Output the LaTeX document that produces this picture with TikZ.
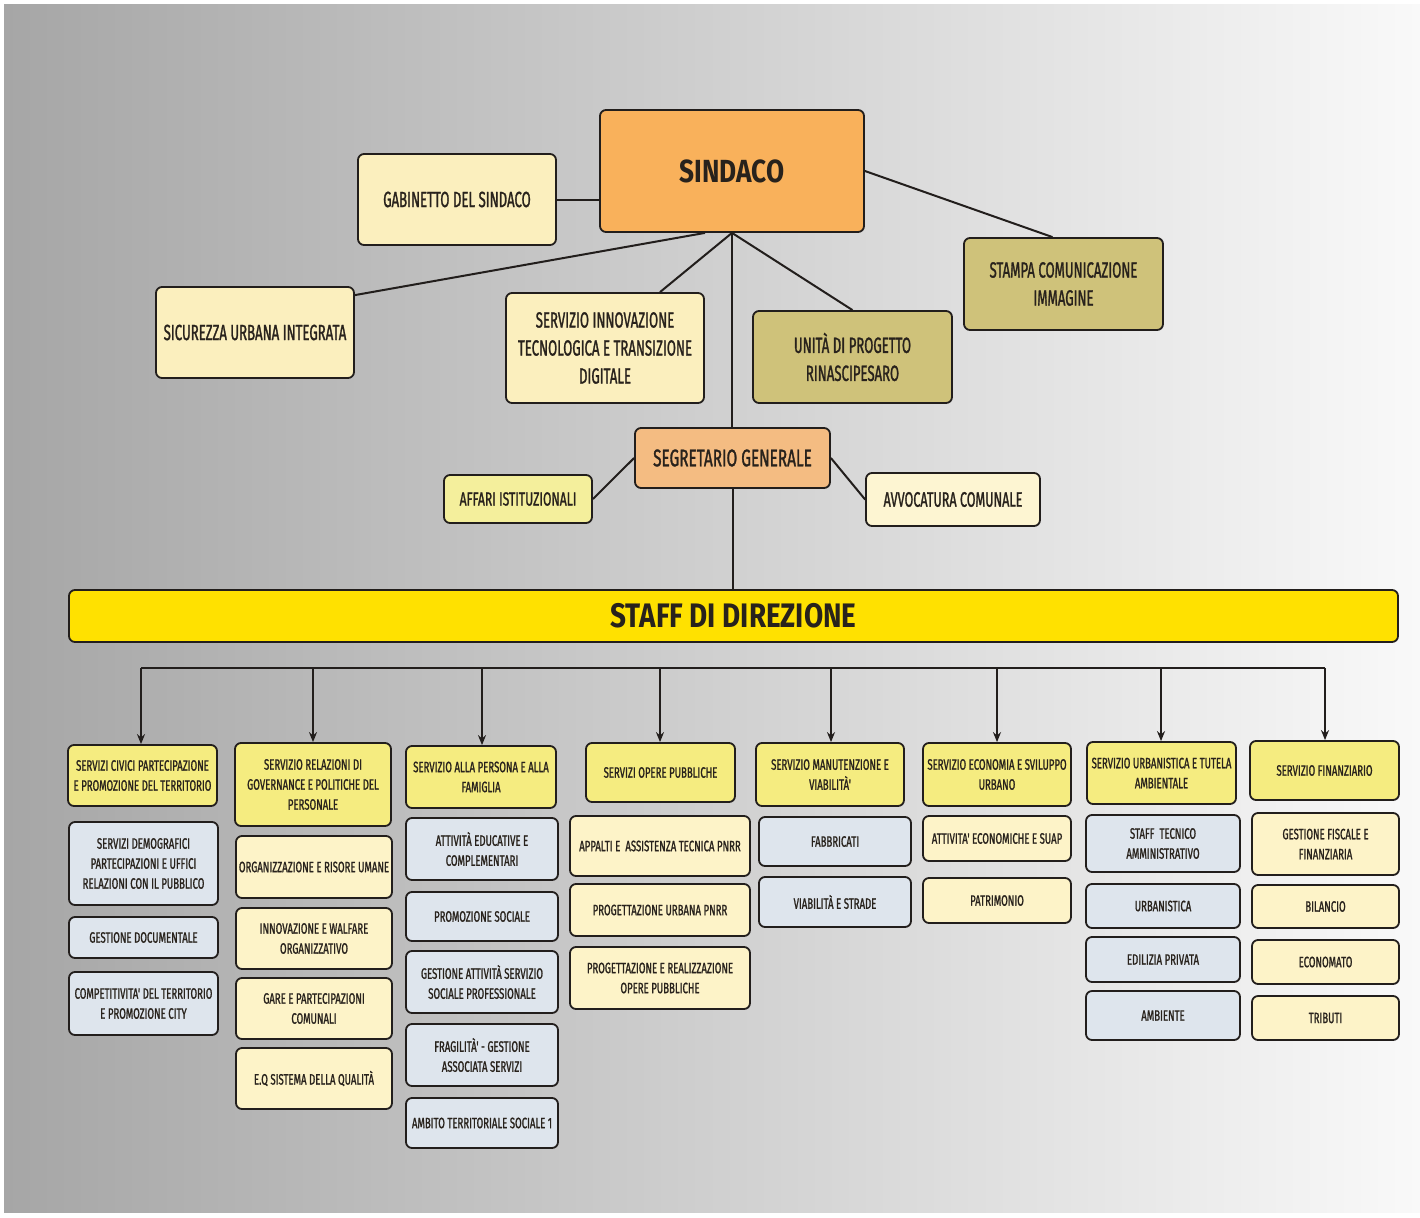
\documentclass[tikz,border=0pt]{standalone}
\usepackage{fontspec}
\setmainfont{Fira Sans}
\newfontfamily\cnd{Fira Sans}[FakeStretch=0.64,FakeBold=1.2]
\newfontfamily\cndt{Fira Sans}[FakeStretch=0.6,FakeBold=1.2]
\newfontfamily\wide{Fira Sans}[FakeStretch=0.82]
\usetikzlibrary{arrows.meta}
\definecolor{bgL}{RGB}{166,166,166}
\definecolor{bgR}{RGB}{249,249,249}
\definecolor{lineC}{RGB}{34,30,28}
\definecolor{txtC}{RGB}{40,34,28}
\definecolor{sinC}{RGB}{249,177,91}
\definecolor{topC}{RGB}{251,239,190}
\definecolor{olC}{RGB}{207,194,122}
\definecolor{segC}{RGB}{244,188,130}
\definecolor{affC}{RGB}{244,239,156}
\definecolor{avvC}{RGB}{253,245,210}
\definecolor{stC}{RGB}{255,225,0}
\definecolor{hdC}{RGB}{245,236,128}
\definecolor{blC}{RGB}{222,229,237}
\definecolor{crC}{RGB}{253,243,200}
\tikzset{
  box/.style={draw=lineC, line width=1.8pt, rounded corners=6pt, align=center, inner sep=0pt,
    text=txtC, font=\cnd\fontsize{15}{20}\selectfont},
  big/.style={box, font=\cndt\fontsize{22}{28}\selectfont},
  hd/.style={box, fill=hdC},
  bl/.style={box, fill=blC},
  cr/.style={box, fill=crC},
  link/.style={draw=lineC, line width=2pt},
  arr/.style={link, -{Stealth[length=10pt,width=8pt]}},
}
\newcommand\bx[7]{\node[#6, minimum width={(#4-#2)*1pt}, minimum height={(#5-#3)*1pt}] (#1) at ({(#2+#4)/2},{(#3+#5)/2}) {#7};}
\begin{document}
\begin{tikzpicture}[x=1pt,y=-1pt]
\useasboundingbox (0,0) rectangle (1420,1217);
\shade[left color=bgL, right color=bgR] (4,5) rectangle (1420,1212);

% top level
\bx{sin}{600}{110}{864}{232}{box, fill=sinC, font=\wide\bfseries\fontsize{32}{36}\selectfont}{SINDACO}
\bx{gab}{358}{154}{556}{245}{big, fill=topC}{GABINETTO DEL SINDACO}
\bx{sic}{156}{287}{354}{378}{big, fill=topC}{SICUREZZA URBANA INTEGRATA}
\bx{inn}{506}{293}{704}{403}{big, fill=topC}{SERVIZIO INNOVAZIONE\\TECNOLOGICA E TRANSIZIONE\\DIGITALE}
\bx{uni}{753}{311}{952}{403}{big, fill=olC}{UNITÀ DI PROGETTO\\RINASCIPESARO}
\bx{sta}{964}{238}{1163}{330}{big, fill=olC}{STAMPA COMUNICAZIONE\\IMMAGINE}
\bx{seg}{635}{428}{830}{488}{box, fill=segC, font=\cnd\fontsize{24}{28}\selectfont}{SEGRETARIO GENERALE}
\bx{aff}{444}{475}{592}{523}{box, fill=affC, font=\cnd\fontsize{19}{24}\selectfont}{AFFARI ISTITUZIONALI}
\bx{avv}{866}{473}{1040}{526}{box, fill=avvC, font=\cndt\fontsize{21}{24}\selectfont}{AVVOCATURA COMUNALE}
\bx{staff}{69}{590}{1398}{642}{box, fill=stC, font=\wide\bfseries\fontsize{34}{38}\selectfont}{STAFF DI DIREZIONE}

\draw[link] (gab.east) -- (gab.east -| sin.west);
\draw[link] ([yshift=-9pt]sic.north east) -- ([xshift=-27pt]sin.south);
\draw[link] ([xshift=55pt]inn.north) -- (sin.south);
\draw[link] (sin.south) -- (uni.north);
\draw[link] (sin.east) -- ([xshift=-11pt]sta.north);
\draw[link] (sin.south) -- (sin.south |- seg.north);
\draw[link] (seg.west) -- (aff.east);
\draw[link] (seg.east) -- (avv.west);
\draw[link] (seg.south) -- (seg.south |- staff.north);

% column 1
\bx{h1}{68}{745}{217}{806}{hd}{SERVIZI CIVICI PARTECIPAZIONE\\E PROMOZIONE DEL TERRITORIO}
\bx{c11}{69}{822}{218}{905}{bl}{SERVIZI DEMOGRAFICI\\PARTECIPAZIONI E UFFICI\\RELAZIONI CON IL PUBBLICO}
\bx{c12}{69}{917}{218}{958}{bl}{GESTIONE DOCUMENTALE}
\bx{c13}{69}{972}{218}{1035}{bl}{COMPETITIVITA' DEL TERRITORIO\\E PROMOZIONE CITY}
% column 2
\bx{h2}{235}{743}{391}{826}{hd}{SERVIZIO RELAZIONI DI\\GOVERNANCE E POLITICHE DEL\\PERSONALE}
\bx{c21}{236}{836}{392}{898}{cr}{ORGANIZZAZIONE E RISORE UMANE}
\bx{c22}{236}{908}{392}{969}{cr}{INNOVAZIONE E WALFARE\\ORGANIZZATIVO}
\bx{c23}{236}{978}{392}{1039}{cr}{GARE E PARTECIPAZIONI\\COMUNALI}
\bx{c24}{236}{1048}{392}{1109}{cr}{E.Q SISTEMA DELLA QUALITÀ}
% column 3
\bx{h3}{406}{746}{556}{808}{hd}{SERVIZIO ALLA PERSONA E ALLA\\FAMIGLIA}
\bx{c31}{406}{818}{558}{880}{bl}{ATTIVITÀ EDUCATIVE E\\COMPLEMENTARI}
\bx{c32}{406}{892}{558}{941}{bl}{PROMOZIONE SOCIALE}
\bx{c33}{406}{951}{558}{1013}{bl}{GESTIONE ATTIVITÀ SERVIZIO\\SOCIALE PROFESSIONALE}
\bx{c34}{406}{1024}{558}{1086}{bl}{FRAGILITÀ' - GESTIONE\\ASSOCIATA SERVIZI}
\bx{c35}{406}{1098}{558}{1148}{bl}{AMBITO TERRITORIALE SOCIALE 1}
% column 4
\bx{h4}{586}{743}{735}{802}{hd}{SERVIZI OPERE PUBBLICHE}
\bx{c41}{570}{816}{750}{876}{cr}{APPALTI E \ ASSISTENZA TECNICA PNRR}
\bx{c42}{570}{884}{750}{936}{cr}{PROGETTAZIONE URBANA PNRR}
\bx{c43}{570}{947}{750}{1009}{cr}{PROGETTAZIONE E REALIZZAZIONE\\OPERE PUBBLICHE}
% column 5
\bx{h5}{756}{743}{904}{806}{hd}{SERVIZIO MANUTENZIONE E\\VIABILITÀ'}
\bx{c51}{759}{817}{911}{866}{bl}{FABBRICATI}
\bx{c52}{759}{877}{911}{927}{bl}{VIABILITÀ E STRADE}
% column 6
\bx{h6}{923}{743}{1071}{806}{hd}{SERVIZIO ECONOMIA E SVILUPPO\\URBANO}
\bx{c61}{923}{816}{1071}{861}{cr}{ATTIVITA' ECONOMICHE E SUAP}
\bx{c62}{923}{878}{1071}{923}{cr}{PATRIMONIO}
% column 7
\bx{h7}{1087}{742}{1236}{804}{hd}{SERVIZIO URBANISTICA E TUTELA\\AMBIENTALE}
\bx{c71}{1086}{815}{1240}{872}{bl}{STAFF \ TECNICO\\AMMINISTRATIVO}
\bx{c72}{1086}{884}{1240}{928}{bl}{URBANISTICA}
\bx{c73}{1086}{937}{1240}{982}{bl}{EDILIZIA PRIVATA}
\bx{c74}{1086}{991}{1240}{1040}{bl}{AMBIENTE}
% column 8
\bx{h8}{1250}{741}{1399}{800}{hd}{SERVIZIO FINANZIARIO}
\bx{c81}{1252}{813}{1399}{875}{cr}{GESTIONE FISCALE E\\FINANZIARIA}
\bx{c82}{1252}{885}{1399}{928}{cr}{BILANCIO}
\bx{c83}{1252}{940}{1399}{984}{cr}{ECONOMATO}
\bx{c84}{1252}{996}{1399}{1040}{cr}{TRIBUTI}

% bus and arrows
\coordinate (b1) at (141,668);
\coordinate (b2) at (313,668);
\coordinate (b3) at (482,668);
\coordinate (b4) at (660,668);
\coordinate (b5) at (831,668);
\coordinate (b6) at (997,668);
\coordinate (b7) at (1161,668);
\coordinate (b8) at (1325,668);
\draw[link, line join=miter] (b1) -- (b8);
\foreach \i in {1,...,8} {\draw[arr] (b\i) -- (b\i |- h\i.north);}
\end{tikzpicture}
\end{document}
